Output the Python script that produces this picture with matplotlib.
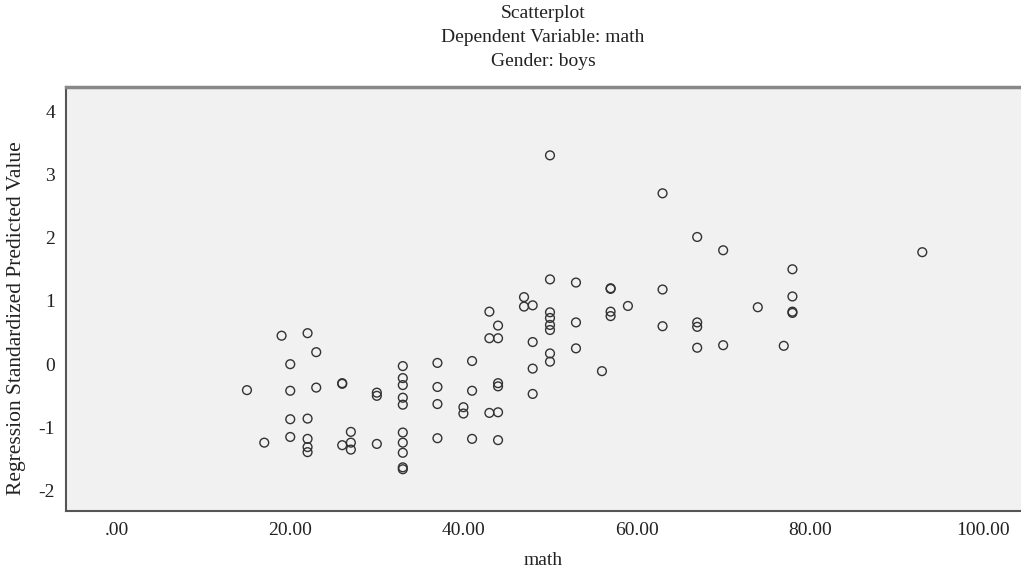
import matplotlib
matplotlib.use("Agg")
import matplotlib.pyplot as plt

plt.rcParams['font.family'] = ['Liberation Serif', 'DejaVu Serif']
plt.rcParams['axes.unicode_minus'] = False

math_x = [15, 17, 19,
          20, 20, 20, 20,
          22, 22, 22, 22, 22,
          23, 23,
          26, 26, 26,
          27, 27, 27,
          30, 30, 30,
          33, 33, 33, 33, 33, 33, 33, 33, 33, 33,
          37, 37, 37, 37,
          40, 40,
          41, 41, 41,
          43, 43, 43,
          44, 44, 44, 44, 44, 44,
          47, 47,
          48, 48, 48, 48,
          50, 50, 50, 50, 50, 50, 50, 50,
          53, 53, 53,
          56,
          57, 57, 57, 57,
          59,
          63, 63, 63,
          67, 67, 67, 67,
          70, 70,
          74, 77,
          78, 78, 78, 78,
          93]
pred_y = [-0.41, -1.24, 0.45,
          0.00, -0.42, -0.87, -1.15,
          0.49, -0.86, -1.18, -1.31, -1.39,
          0.19, -0.37,
          -0.30, -0.31, -1.28,
          -1.07, -1.24, -1.35,
          -0.45, -0.50, -1.26,
          -0.03, -0.22, -0.33, -0.53, -0.64, -1.08, -1.24, -1.40, -1.63, -1.66,
          0.02, -0.36, -0.63, -1.17,
          -0.68, -0.78,
          0.05, -0.42, -1.18,
          0.83, 0.41, -0.77,
          0.61, 0.41, -0.30, -0.35, -0.76, -1.20,
          1.06, 0.91,
          0.93, 0.35, -0.07, -0.47,
          3.30, 1.34, 0.82, 0.73, 0.62, 0.54, 0.17, 0.04,
          1.29, 0.66, 0.25,
          -0.11,
          1.20, 1.19, 0.83, 0.76,
          0.92,
          2.70, 1.18, 0.60,
          2.01, 0.66, 0.59, 0.26,
          1.80, 0.30,
          0.90, 0.29,
          1.50, 1.07, 0.83, 0.81,
          1.77]

x_ticks = [0, 20, 40, 60, 80, 100]
x_ticklabels = ['.00', '20.00', '40.00', '60.00', '80.00', '100.00']
y_ticks = [-2, -1, 0, 1, 2, 3, 4]

fig = plt.figure(figsize=(10.21, 5.71), dpi=100)
ax = fig.add_axes([66/1021, 1 - 511/571, 1 - 66/1021, (511 - 87)/571])
ax.set_facecolor('#f1f1f1')

ax.scatter(math_x, pred_y, s=40, facecolors='none', edgecolors='#333333', linewidths=1.0)

ax.set_xlim(-5.9, 104.4)
ax.set_ylim(-2.32, 4.38)
ax.set_xticks(x_ticks)
ax.set_xticklabels(x_ticklabels)
ax.set_yticks(y_ticks)
ax.tick_params(length=0, labelsize=14, colors='#222222', pad=8)

ax.spines['right'].set_visible(False)
ax.spines['top'].set_color('#888888')
ax.spines['top'].set_linewidth(2.5)
ax.spines['left'].set_color('#555555')
ax.spines['left'].set_linewidth(1.5)
ax.spines['bottom'].set_color('#555555')
ax.spines['bottom'].set_linewidth(1.5)

ax.set_xlabel('math', fontsize=14, color='#222222', labelpad=9)
ax.set_ylabel('Regression Standardized Predicted Value', fontsize=15.5, color='#222222')
ax.yaxis.set_label_coords(-0.042, 0.455)

fig.text(543/1021, 1 - 14/571, 'Scatterplot', ha='center', va='center', fontsize=14, color='#222222')
fig.text(543/1021, 1 - 38/571, 'Dependent Variable: math', ha='center', va='center', fontsize=14, color='#222222')
fig.text(543/1021, 1 - 62/571, 'Gender: boys', ha='center', va='center', fontsize=14, color='#222222')

fig.savefig('out.png', dpi=100)
